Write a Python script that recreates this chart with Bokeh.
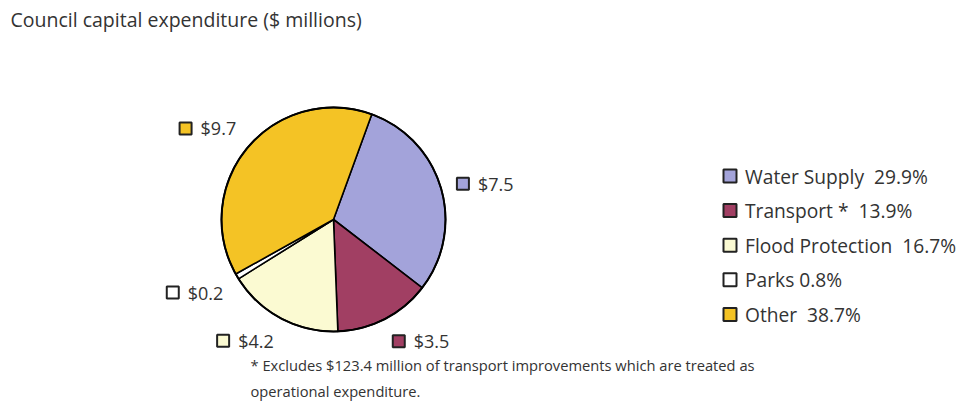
import math
from bokeh.plotting import figure
from bokeh.models import Range1d, ColumnDataSource
from bokeh.core.properties import value
from bokeh.embed import file_html
from bokeh.resources import INLINE

# ---- data ----
categories = ["Water Supply", "Transport *", "Flood Protection", "Parks", "Other"]
values = [7.5, 3.5, 4.2, 0.2, 9.7]
percents = [29.9, 13.9, 16.7, 0.8, 38.7]
colors = ["#a3a3da", "#a13f63", "#fbfad2", "#ffffff", "#f4c325"]
legend_sep = ["\u00a0\u00a0", "\u00a0\u00a0", "\u00a0\u00a0", " ", "\u00a0\u00a0"]
title_text = "Council capital expenditure ($ millions)"
footnote_lines = ["* Excludes $123.4 million of transport improvements which are treated as",
                  "operational expenditure."]

# ---- layout ----
W, H = 962, 403
FONT = "Open Sans"
cx, cy_top, R = 333, 219, 112
start_deg = 70.0       # angle of first slice start (counter-clockwise from +x)
anchor_r = 128         # distance of label box corner from centre
box_w, box_h = 57, 16

def Y(y):
    return H - y

p = figure(width=W, height=H, output_backend="svg", toolbar_location=None,
           x_range=Range1d(0, W), y_range=Range1d(0, H), min_border=0)
p.axis.visible = False
p.grid.visible = False
p.outline_line_color = None
p.background_fill_color = "white"
p.border_fill_color = "white"

total = sum(values)
fracs = [v / total for v in values]
starts, ends = [], []
cum = 0.0
for f in fracs:
    starts.append(math.radians(start_deg - cum * 360))
    cum += f
    ends.append(math.radians(start_deg - cum * 360))

src = ColumnDataSource(dict(x=[cx] * len(values), y=[Y(cy_top)] * len(values),
                            start=starts, end=ends, color=colors))
p.wedge(x="x", y="y", radius=R, start_angle="start", end_angle="end",
        direction="clock", fill_color="color", line_color="black", line_width=1.6,
        source=src)
p.circle(x=[cx], y=[Y(cy_top)], radius=R, fill_color=None, line_color="black", line_width=2)

# data labels (outside end)
sq_x, sq_y, tx, lt = [], [], [], []
for v, s, e in zip(values, starts, ends):
    m = (s + e) / 2
    ux, uy = math.cos(m), math.sin(m)
    ax = cx + anchor_r * ux
    ay = Y(cy_top) + anchor_r * uy
    bx = ax + math.copysign(box_w / 2, ux)
    by = ay + (math.copysign(box_h / 2, uy) if abs(uy) > 0.45 else 0.0)
    sx = bx - box_w / 2 + 6.5
    sq_x.append(sx)
    sq_y.append(by)
    tx.append(sx + 15)
    lt.append("$%.1f" % v)
p.rect(x=sq_x, y=sq_y, width=12, height=12, fill_color=colors,
       line_color="#222222", line_width=2)
p.text(x=tx, y=sq_y, text=lt, text_font=value(FONT), text_font_size="18px",
       text_color="#333333", text_baseline="middle", text_align="left")

# legend
leg_x, leg_y0, leg_dy = 729.5, 175.5, 34.6
leg_text = ["%s%s%.1f%%" % (c, sp, pc) for c, sp, pc in zip(categories, legend_sep, percents)]
leg_ys = [Y(leg_y0 + i * leg_dy) for i in range(len(categories))]
p.rect(x=[leg_x] * len(categories), y=leg_ys, width=13, height=13, fill_color=colors,
       line_color="#222222", line_width=2)
p.text(x=[leg_x + 15] * len(categories), y=leg_ys, text=leg_text, text_font=value(FONT),
       text_font_size="19.2px", text_color="#333333", text_baseline="middle", text_align="left")

# title
p.text(x=[10], y=[Y(19)], text=[title_text], text_font=value(FONT), text_font_size="19.5px",
       text_color="#333333", text_baseline="middle", text_align="left")

# footnote
p.text(x=[250, 250], y=[Y(364), Y(390)], text=footnote_lines, text_font=value(FONT),
       text_font_size="14.7px", text_color="#333333", text_baseline="middle", text_align="left")

open("out.html", "w").write(file_html(p, INLINE))
